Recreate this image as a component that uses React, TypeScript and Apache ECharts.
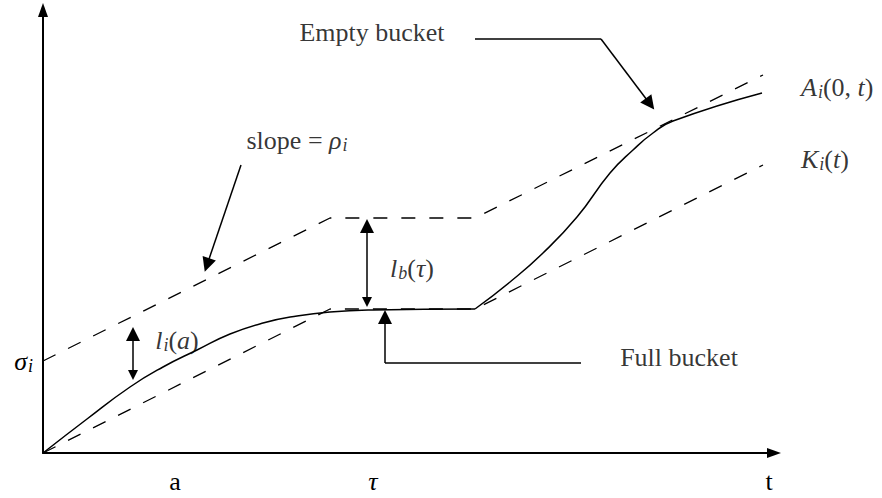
import { useEffect, useRef } from "react";
import * as echarts from "echarts";

// Cumulative arrivals A_i(0,t): smooth rise, plateau, then a second rise
const arrivalX = [0, 44, 87, 120, 154, 187, 220, 254, 287, 330, 432, 467, 500, 534, 567, 590, 610, 630, 719];
const arrivalY = [0, 34, 66, 86, 103, 119, 130, 137, 141, 143, 144, 171, 200, 236, 280, 303, 320, 332, 360];
const plateauEndX = 432; // corner where the second rise starts

// Token-bucket envelope sigma_i + rho_i t (held flat while the bucket is full)
const envelopeX = [0, 287, 432, 720];
const envelopeY = [92, 235, 235, 378];

// Service curve K_i(t)
const serviceX = [0, 287, 432, 720];
const serviceY = [0, 144, 144, 288];

// Marked instants on the time axis and the burst level on the vertical axis
const tickValues = [132, 330, 726];
const tickLabels = ["a", "τ", "t"];
const sigmaValue = 92;

const SERIF = "'Liberation Serif', 'Times New Roman', serif";
const INK = "#000";

const rich = {
  rm: { fontFamily: SERIF, fontSize: 26, color: INK },
  it: { fontFamily: SERIF, fontSize: 26, fontStyle: "italic" as const, color: INK },
  sub: { fontFamily: SERIF, fontSize: 18, fontStyle: "italic" as const, color: INK, padding: [10, 0, 0, 1] },
};

function pairs(xs: number[], ys: number[]) {
  return xs.map((x, i) => [x, ys[i]]);
}

export default function App() {
  const ref = useRef<HTMLDivElement>(null);

  useEffect(() => {
    if (!ref.current) return;
    const chart = echarts.init(ref.current, null, { renderer: "svg" });

    const arrival = pairs(arrivalX, arrivalY);
    const firstPart = arrival.filter((p) => p[0] <= plateauEndX);
    const secondPart = arrival.filter((p) => p[0] >= plateauEndX);

    const dashed = { color: INK, width: 1.3, type: [14, 14] as number[] };

    const textItems = [
      { value: [329, 421], label: { formatter: "{rm|Empty bucket}" } },
      { value: [254, 313], label: { formatter: "{rm|slope = }{it|ρ}{sub|i}" } },
      { value: [134, 113], label: { formatter: "{it|l}{sub|i}{rm|(}{it|a}{rm|)}" } },
      { value: [369, 185], label: { formatter: "{it|l}{sub|b}{rm|(}{it|τ}{rm|)}" } },
      { value: [636, 96], label: { formatter: "{rm|Full bucket}" } },
      {
        value: [758, 366],
        label: { position: "right", distance: 0, formatter: "{it|A}{sub|i}{rm|(0, }{it|t}{rm|)}" },
      },
      {
        value: [758, 294],
        label: { position: "right", distance: 0, formatter: "{it|K}{sub|i}{rm|(}{it|t}{rm|)}" },
      },
    ];

    chart.setOption({
      animation: false,
      backgroundColor: "#fff",
      grid: { left: 43, right: 108, top: 10, bottom: 45 },
      xAxis: {
        type: "value",
        min: 0,
        max: 731,
        splitLine: { show: false },
        axisTick: { show: false },
        axisLine: {
          onZero: false,
          lineStyle: { color: INK, width: 2 },
          symbol: ["none", "triangle"],
          symbolSize: [10, 14],
        },
        axisLabel: {
          customValues: tickValues,
          margin: 15,
          formatter: (v: number) => {
            const s = tickLabels[tickValues.indexOf(v)] ?? "";
            return s === "τ" ? `{it|${s}}` : `{rm|${s}}`;
          },
          rich,
        },
      },
      yAxis: {
        type: "value",
        min: 0,
        max: 443,
        splitLine: { show: false },
        axisTick: { show: false },
        axisLine: {
          show: true,
          onZero: false,
          lineStyle: { color: INK, width: 2 },
          symbol: ["none", "triangle"],
          symbolSize: [10, 14],
        },
        axisLabel: {
          customValues: [sigmaValue],
          margin: 10,
          formatter: () => "{it|σ}{sub|i}",
          rich,
        },
      },
      series: [
        {
          type: "line",
          data: firstPart,
          smooth: 0.5,
          showSymbol: false,
          lineStyle: { color: INK, width: 1.5 },
        },
        {
          type: "line",
          data: secondPart,
          smooth: 0.5,
          showSymbol: false,
          lineStyle: { color: INK, width: 1.5 },
        },
        {
          type: "line",
          data: pairs(envelopeX, envelopeY),
          showSymbol: false,
          lineStyle: dashed,
        },
        {
          type: "line",
          data: pairs(serviceX, serviceY),
          showSymbol: false,
          lineStyle: dashed,
        },
        // leader segments without heads
        {
          type: "lines",
          coordinateSystem: "cartesian2d",
          symbol: ["none", "none"],
          lineStyle: { color: INK, width: 1.5, opacity: 1 },
          data: [
            { coords: [[432, 414], [558, 414]] },
            { coords: [[538, 90], [342, 90]] },
          ],
        },
        // pointers with one head
        {
          type: "lines",
          coordinateSystem: "cartesian2d",
          symbol: ["none", "triangle"],
          symbolSize: [10, 14],
          lineStyle: { color: INK, width: 1.5, opacity: 1 },
          itemStyle: { color: INK },
          data: [
            { coords: [[558, 414], [607, 349]] },
            { coords: [[198, 288], [164, 188]] },
            { coords: [[342, 90], [342, 136]] },
          ],
        },
        // gap markers with two heads
        {
          type: "lines",
          coordinateSystem: "cartesian2d",
          symbol: ["triangle", "triangle"],
          symbolSize: [10, 14],
          lineStyle: { color: INK, width: 1.5, opacity: 1 },
          itemStyle: { color: INK },
          data: [
            { coords: [[90, 78], [90, 119]] },
            { coords: [[324, 151], [324, 227]] },
          ],
        },
        {
          type: "scatter",
          symbolSize: 0,
          clip: false,
          silent: true,
          label: { show: true, position: "inside", rich },
          data: textItems,
        },
      ],
    });

    return () => chart.dispose();
  }, []);

  return (
    <div
      ref={ref}
      style={{ position: "absolute", left: 0, top: 0, width: 882, height: 498, background: "#fff" }}
    />
  );
}
